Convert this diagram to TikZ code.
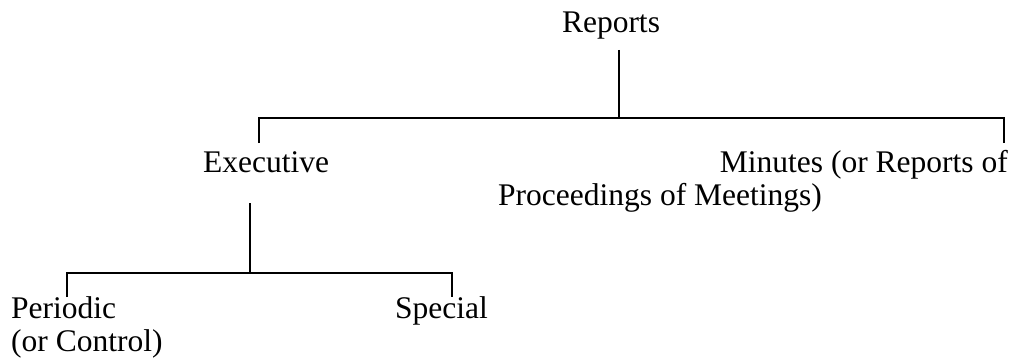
\documentclass[tikz,border=0pt]{standalone}
\usepackage{fontspec}
\setmainfont{Liberation Serif}
\begin{document}
\begin{tikzpicture}[x=1pt,y=-1pt,
  lbl/.style={inner sep=0pt, font=\fontsize{31.5}{31}\selectfont},
  conn/.style={line width=2pt, black}]
\useasboundingbox (0,0) rectangle (1018,361);
\node[lbl, anchor=base] (reports) at (611,33) {Reports};
\node[lbl, anchor=base west] (exec) at (203,172) {Executive};
\node[lbl, anchor=base east] (min1) at (1008,172) {Minutes (or Reports of};
\node[lbl, anchor=base west] (min2) at (498,205) {Proceedings of Meetings)};
\node[lbl, anchor=base west] (periodic) at (11,318) {Periodic};
\node[lbl, anchor=base west] (control) at (11,351) {(or Control)};
\node[lbl, anchor=base west] (special) at (395,318) {Special};
% top level
\coordinate (rtop) at (619,50);
\coordinate (rbar) at (619,118);
\coordinate (lt) at (259,143);
\coordinate (lc) at (259,118);
\coordinate (rc) at (1004,118);
\coordinate (rt) at (1004,143);
\draw[conn] (rtop) -- (rbar);
\draw[conn] (lt) -- (lc) -- (rc) -- (rt);
% second level
\coordinate (etop) at (250,203);
\coordinate (ebar) at (250,273);
\coordinate (pt) at (67,297);
\coordinate (pc) at (67,273);
\coordinate (sc) at (452,273);
\coordinate (st) at (452,297);
\draw[conn] (etop) -- (ebar);
\draw[conn] (pt) -- (pc) -- (sc) -- (st);
\end{tikzpicture}
\end{document}
